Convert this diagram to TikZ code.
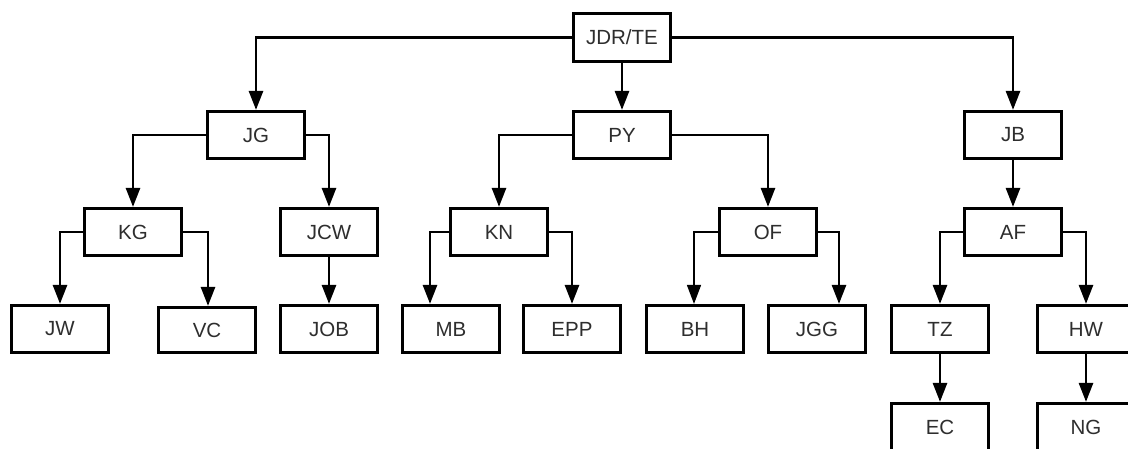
\documentclass[tikz,border=0pt]{standalone}
\usepackage{fontspec}
\setmainfont{Liberation Sans}
\usetikzlibrary{arrows.meta}
\begin{document}
\begin{tikzpicture}[x=1pt,y=-1pt,
  box/.style={draw=black,line width=2.7pt,fill=white,minimum width=97pt,minimum height=47.5pt,inner sep=0pt,
    font=\fontsize{20.5}{24}\selectfont,text=black!82},
  link/.style={draw=black,line width=2.7pt,-{Triangle[length=19pt,width=14pt]}},
  thin link/.style={link,line width=1.6pt}]
\useasboundingbox (0,0) rectangle (1128,449);
\clip (0,0) rectangle (1128,449);
\fill[white] (0,0) rectangle (1128,449);
% nodes
\node[box] (jdr) at (622,37.5) {JDR/TE};
\node[box] (jg) at (256,135) {JG};
\node[box] (py) at (622,135) {PY};
\node[box] (jb) at (1013,135) {JB};
\node[box] (kg) at (133,232) {KG};
\node[box] (jcw) at (329,232) {JCW};
\node[box] (kn) at (499,232) {KN};
\node[box] (of) at (768,232) {OF};
\node[box] (af) at (1013,232) {AF};
\node[box] (jw) at (60,329) {JW};
\node[box,minimum height=45.5pt] (vc) at (207,330) {VC};
\node[box] (job) at (329,329) {JOB};
\node[box] (mb) at (451,329) {MB};
\node[box] (epp) at (572,329) {EPP};
\node[box] (bh) at (695,329) {BH};
\node[box] (jgg) at (817,329) {JGG};
\node[box] (tz) at (940,329) {TZ};
\node[box] (hw) at (1086,329) {HW};
\node[box] (ec) at (940,427) {EC};
\node[box] (ng) at (1086,427) {NG};
% connectors
\draw[link] (jdr.west) -| (jg.north);
\draw[link] (jdr.south) -- (py.north);
\draw[link] (jdr.east) -| (jb.north);
\draw[link] (jg.west) -| (kg.north);
\draw[link] (jg.east) -| (jcw.north);
\draw[link] (kg.west) -| (jw.north);
\draw[link] (kg.east) -| ([xshift=1pt]vc.north);
\draw[link] (jcw.south) -- (job.north);
\draw[link] (py.west) -| (kn.north);
\draw[link] (py.east) -| (of.north);
\draw[link] (kn.west) -| ([xshift=-21pt]mb.north);
\draw[link] (kn.east) -| (epp.north);
\draw[thin link] (of.west) -| ([xshift=-1pt]bh.north);
\draw[link] (of.east) -| ([xshift=22pt]jgg.north);
\draw[link] (jb.south) -- (af.north);
\draw[link] (af.west) -| (tz.north);
\draw[link] (af.east) -| (hw.north);
\draw[link] (tz.south) -- (ec.north);
\draw[link] (hw.south) -- (ng.north);
\end{tikzpicture}
\end{document}
